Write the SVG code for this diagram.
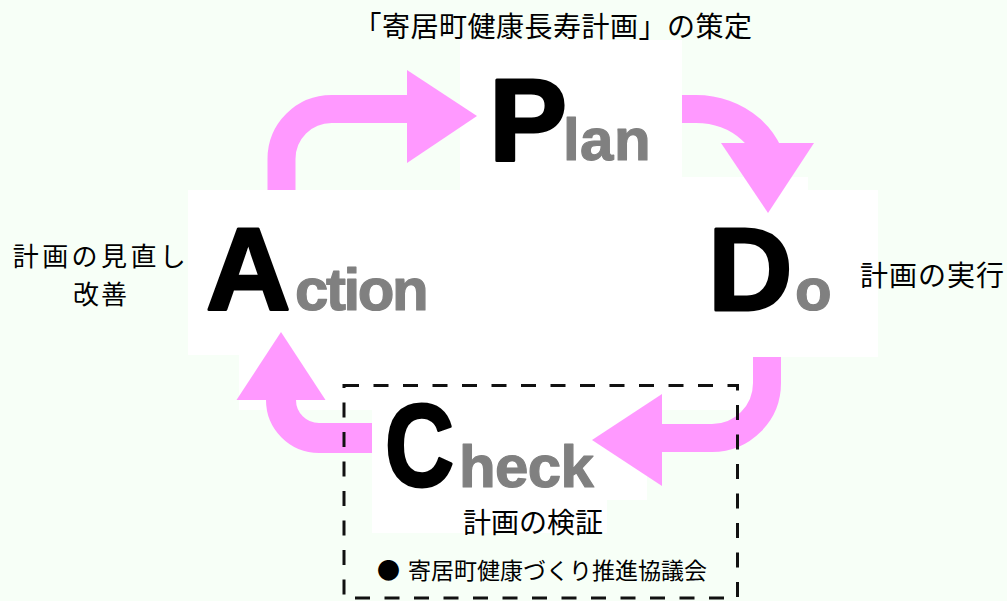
<svg xmlns="http://www.w3.org/2000/svg" width="1007" height="601" viewBox="0 0 1007 601">
<style>
.bg{fill:#F7FFF7}
.box{fill:#FFFFFF}
.arrow{fill:none;stroke:#FF99FF}
.head{fill:#FF99FF}
.word{font-family:"Liberation Sans",Arial,sans-serif;font-weight:bold}
.big{font-size:117px;fill:#000;stroke:#000;stroke-width:3;stroke-linejoin:round}
.small{font-size:60px;fill:#808080;stroke:#808080;stroke-width:1.2;stroke-linejoin:round}
.jp{font-family:"Noto Sans CJK JP","Noto Sans",sans-serif;font-size:28px;fill:#000}
.jpm{font-family:"Noto Sans CJK JP","Noto Sans",sans-serif;font-size:26px;fill:#000}
.jps{font-family:"Noto Sans CJK JP","Noto Sans",sans-serif;font-size:23px;fill:#000}
.dash{fill:none;stroke:#111;stroke-width:3;stroke-dasharray:15 14.5}
</style>
<rect class="bg" x="0" y="0" width="1007" height="601"/>

<g id="node-plan">
<rect class="box" x="460" y="40" width="222" height="150"/>
<text class="jp" x="553" y="37" text-anchor="middle" letter-spacing="0.5">「寄居町健康長寿計画」の策定</text>
<text class="word" x="489" y="160"><tspan class="big">P</tspan><tspan class="small" dx="-4" letter-spacing="0.4">lan</tspan></text>
</g>

<g id="node-action">
<rect class="box" x="188" y="190" width="345" height="165"/>
<text class="word" x="206" y="310"><tspan class="big">A</tspan><tspan class="small" dx="4.5" letter-spacing="-2.4">ction</tspan></text>
<text class="jpm" text-anchor="middle" letter-spacing="3.4"><tspan x="101" y="265.5">計画の見直し</tspan><tspan x="101" y="303.5" letter-spacing="2">改善</tspan></text>
</g>

<g id="node-do">
<rect class="box" x="533" y="177" width="275" height="180"/>
<rect class="box" x="682" y="190" width="196" height="167"/>
<text class="word" x="708" y="310"><tspan class="big">D</tspan><tspan class="small" dx="2.5">o</tspan></text>
<text class="jp" x="860" y="286" letter-spacing="1">計画の実行</text>
</g>

<g id="node-check">
<rect class="box" x="239" y="355" width="515" height="55"/>
<rect class="box" x="372" y="355" width="275" height="145"/>
<rect class="box" x="372" y="500" width="235" height="33"/>
<text class="word big" x="385" y="486" textLength="69" lengthAdjust="spacingAndGlyphs">C</text>
<text class="word small" x="459" y="487" letter-spacing="-0.6">heck</text>
<text class="jp" x="533" y="533" text-anchor="middle">計画の検証</text>
</g>

<g id="connectors">
<path class="arrow" stroke-width="28" d="M281.5,190 V159 A50,50 0 0 1 331.5,109 H410"/>
<polygon class="head" points="407,70 477,116 407,163"/>
<path class="arrow" stroke-width="28" d="M682,109 H696 A78,70 0 0 1 774,179"/>
<polygon class="head" points="721,143 814,143 768,213"/>
<path class="arrow" stroke-width="28" d="M767,357 V383 A55,55 0 0 1 712,438 H658"/>
<polygon class="head" points="662,394 662,486 592,440"/>
<path class="arrow" stroke-width="30" d="M372,438 H319 A38,38 0 0 1 281,400 V396"/>
<polygon class="head" points="281,332 325.5,400 236.5,400"/>
</g>

<g id="group-council">
<rect class="dash" x="344" y="385.5" width="393.5" height="212.5"/>
<text class="jps" y="579"><tspan x="377">●</tspan><tspan x="408">寄居町健康づくり推進協議会</tspan></text>
</g>
</svg>
